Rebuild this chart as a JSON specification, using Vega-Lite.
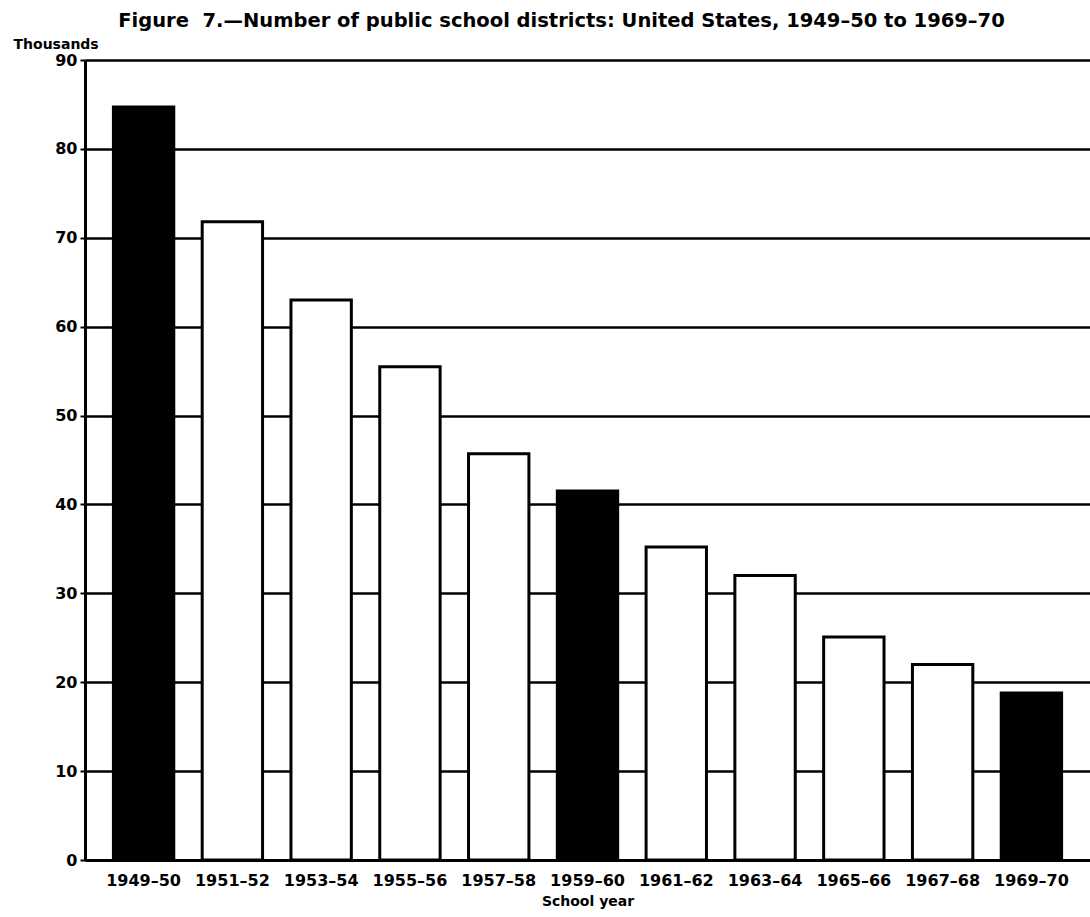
{
  "$schema": "https://vega.github.io/schema/vega-lite/v6.json",
  "width": 1005,
  "height": 800,
  "autosize": {"type": "none"},
  "padding": {"left": 85, "top": 60, "right": 0, "bottom": 57},
  "background": "white",
  "view": {"stroke": null},
  "config": {"font": "DejaVu Sans"},
  "title": {
    "text": "Figure\u00a0\u00a07.—Number of public school districts: United States, 1949–50 to 1969–70",
    "font": "DejaVu Sans",
    "fontSize": 19.5,
    "fontWeight": "bold",
    "color": "black",
    "anchor": "middle",
    "frame": "group",
    "dx": -26,
    "offset": 6
  },
  "data": {
    "values": [
      {"year": "1949–50", "districts": 84.7, "highlight": "yes"},
      {"year": "1951–52", "districts": 71.8, "highlight": "no"},
      {"year": "1953–54", "districts": 63.0, "highlight": "no"},
      {"year": "1955–56", "districts": 55.5, "highlight": "no"},
      {"year": "1957–58", "districts": 45.7, "highlight": "no"},
      {"year": "1959–60", "districts": 41.5, "highlight": "yes"},
      {"year": "1961–62", "districts": 35.2, "highlight": "no"},
      {"year": "1963–64", "districts": 32.0, "highlight": "no"},
      {"year": "1965–66", "districts": 25.1, "highlight": "no"},
      {"year": "1967–68", "districts": 22.0, "highlight": "no"},
      {"year": "1969–70", "districts": 18.8, "highlight": "yes"}
    ]
  },
  "mark": {"type": "bar", "stroke": "black", "strokeWidth": 3},
  "encoding": {
    "x": {
      "field": "year",
      "type": "nominal",
      "sort": null,
      "scale": {"paddingInner": 0.32, "paddingOuter": 0.32},
      "axis": {
        "title": "School year",
        "titleFont": "DejaVu Sans",
        "titleFontSize": 14,
        "titleFontWeight": "bold",
        "titleColor": "black",
        "titlePadding": 6,
        "labelAngle": 0,
        "labelFont": "DejaVu Sans",
        "labelFontSize": 16,
        "labelFontWeight": "bold",
        "labelColor": "black",
        "labelPadding": 12,
        "ticks": false,
        "domainColor": "black",
        "domainWidth": 3
      }
    },
    "y": {
      "field": "districts",
      "type": "quantitative",
      "scale": {"domain": [0, 90], "nice": false},
      "axis": {
        "title": "Thousands",
        "titleAngle": 0,
        "titleAlign": "left",
        "titleBaseline": "alphabetic",
        "titleX": -72,
        "titleY": -12,
        "titleFont": "DejaVu Sans",
        "titleFontSize": 14,
        "titleFontWeight": "bold",
        "titleColor": "black",
        "values": [0, 10, 20, 30, 40, 50, 60, 70, 80, 90],
        "labelFont": "DejaVu Sans",
        "labelFontSize": 16,
        "labelFontWeight": "bold",
        "labelColor": "black",
        "labelPadding": 3,
        "tickColor": "black",
        "tickSize": 5,
        "tickWidth": 2,
        "domainColor": "black",
        "domainWidth": 3,
        "grid": true,
        "gridColor": "black",
        "gridWidth": 2.5,
        "gridOpacity": 1
      }
    },
    "fill": {
      "field": "highlight",
      "type": "nominal",
      "scale": {"domain": ["yes", "no"], "range": ["black", "white"]},
      "legend": null
    }
  }
}
